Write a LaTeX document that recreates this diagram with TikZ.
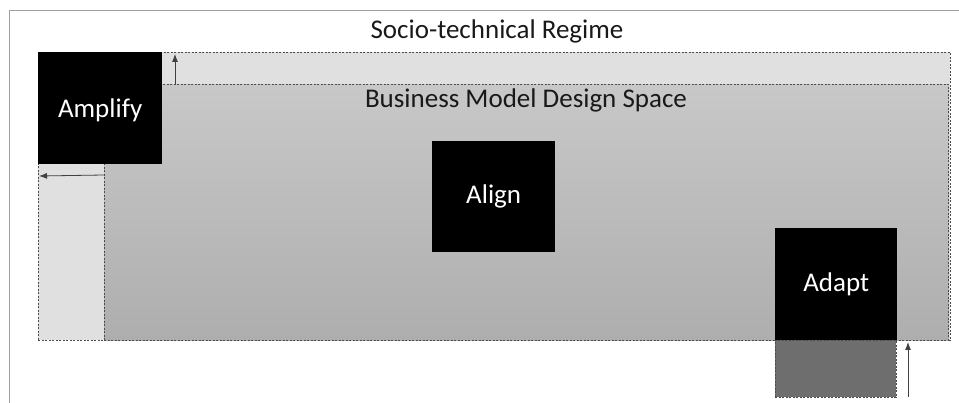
\documentclass[tikz,border=0pt]{standalone}
\usepackage{fontspec}
\setmainfont{Carlito}
\usetikzlibrary{positioning,arrows.meta}
\definecolor{lightzone}{HTML}{E0E0E0}
\definecolor{spacetop}{HTML}{C8C8C8}
\definecolor{spacebot}{HTML}{AEAEAE}
\definecolor{shadow}{HTML}{6E6E6E}
\tikzset{
	zone/.style={rectangle,inner sep=0pt,anchor=north west,draw=gray!60!black,dash pattern=on 2pt off 1.5pt,line width=0.9pt},
	blackbox/.style={rectangle,inner sep=0pt,anchor=north west,fill=black,text=white,font=\fontsize{27}{30}\selectfont},
	movearrow/.style={-{Latex[length=8pt,width=6pt]},draw=black!75,line width=0.8pt}
}
\begin{document}
\begin{tikzpicture}[x=1pt,y=-1pt]
		\useasboundingbox (0,0) rectangle (959,403);
		\draw[gray!75,line width=1pt] (9,403) -- (9,11) -- (959,11);
		\node[font=\fontsize{27}{30}\selectfont,text=black!90] (regime) at (497,31) {Socio-technical Regime};
		% regime zone and design space
		\node[zone,fill=lightzone,minimum width=912,minimum height=288] (widezone) at (38,52) {};
		\node[zone,top color=spacetop,bottom color=spacebot,draw=black!70,minimum width=844,minimum height=256] (dspace) at (104,84) {};
		\node[font=\fontsize{27}{30}\selectfont,text=black!90] (dlabel) at (526,100) {Business Model Design Space};
		\node[zone,fill=shadow,draw=black!70,minimum width=121,minimum height=57] (below) at (775,340) {};
		% strategies
		\node[blackbox,minimum width=124,minimum height=112] (amplify) at (38,52) {};\node[text=white,font=\fontsize{27}{30}\selectfont] at ([yshift=-2pt]amplify.center) {Amplify};
		\node[blackbox,minimum width=123,minimum height=111] (align) at (432,141) {};\node[text=white,font=\fontsize{27}{30}\selectfont] at (align.center) {Align};
		\node[blackbox,minimum width=122,minimum height=112] (adapt) at (775,228) {};\node[text=white,font=\fontsize{27}{30}\selectfont] at (adapt.center) {Adapt};
		% arrows
		\coordinate (upA) at (175,84);\coordinate (upB) at (175,54);
		\coordinate (leftA) at (104,175);\coordinate (leftB) at (39,176);
		\coordinate (rightA) at (908,397);\coordinate (rightB) at (908,342);
		\draw[movearrow] (upA) -- (upB);\draw[movearrow] (leftA) -- (leftB);\draw[movearrow] (rightA) -- (rightB);
	\end{tikzpicture}
\end{document}
